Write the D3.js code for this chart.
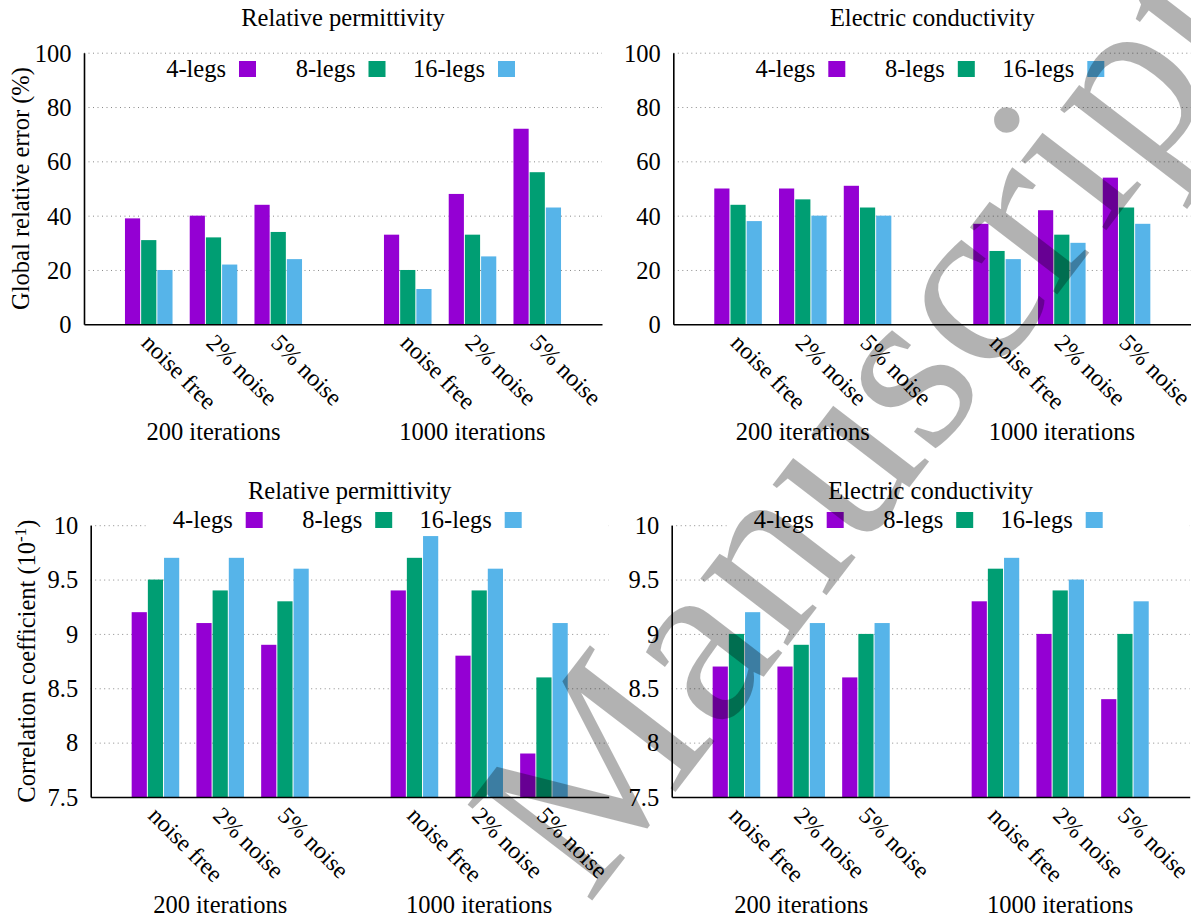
<!DOCTYPE html>
<html>
<head>
<meta charset="utf-8">
<script src="https://cdn.jsdelivr.net/npm/d3@7"></script>
<style>
  body { margin: 0; background: #fff; }
</style>
</head>
<body>
<div id="chart"></div>
<script>
const noiseLevels = ['noise free', '2% noise', '5% noise'];
const iterationRuns = ['200 iterations', '1000 iterations'];
const legs = ['4-legs', '8-legs', '16-legs'];
const legColors = ['#9400d3', '#009e73', '#56b4e9'];

// rows: 200 it (noise free, 2%, 5%) then 1000 it (noise free, 2%, 5%); columns: 4, 8, 16 legs
const errPermittivity = [[39, 31, 20], [40, 32, 22], [44, 34, 24], [33, 20, 13], [48, 33, 25], [72, 56, 43]];
const errConductivity = [[50, 44, 38], [50, 46, 40], [51, 43, 40], [37, 27, 24], [42, 33, 30], [54, 43, 37]];
const corrPermittivity = [[9.2, 9.5, 9.7], [9.1, 9.4, 9.7], [8.9, 9.3, 9.6], [9.4, 9.7, 9.9], [8.8, 9.4, 9.6], [7.9, 8.6, 9.1]];
const corrConductivity = [[8.7, 9.0, 9.2], [8.7, 8.9, 9.1], [8.6, 9.0, 9.1], [9.3, 9.6, 9.7], [9.0, 9.4, 9.5], [8.4, 9.0, 9.3]];

const errTicks = [0, 20, 40, 60, 80, 100];
const corrTicks = [7.5, 8, 8.5, 9, 9.5, 10];

// pick the first serif face that is really installed (Times-like look of the original)
function pickFont() {
  const ctx = document.createElement('canvas').getContext('2d');
  const sample = 'Relative permittivity mmWWii 0123';
  const width = f => { ctx.font = `40px ${f}`; return ctx.measureText(sample).width; };
  const mono = width('monospace');
  const sans = width('sans-serif');
  const names = ['Liberation Serif', 'Tinos', 'Times New Roman', 'Nimbus Roman', 'FreeSerif', 'DejaVu Serif', 'Noto Serif'];
  for (const n of names) {
    if (width(`"${n}", monospace`) !== mono || width(`"${n}", sans-serif`) !== sans) return `"${n}", serif`;
  }
  return 'serif';
}
const FONT = pickFont();

const svg = d3.select('#chart').append('svg')
  .attr('width', 1191)
  .attr('height', 920)
  .attr('font-family', FONT)
  .attr('font-size', 24.5);

class Chart {

  constructor(opts) {
    this.left = opts.left;
    this.top = opts.top;
    this.bottom = opts.bottom;
    this.title = opts.title;
    this.rows = opts.rows;
    this.ticks = opts.ticks;
    this.yLabel = opts.yLabel;
    this.legendTop = opts.legendTop;
    this.width = 518;
    this.draw();
  }

  draw() {
    this.plot = svg.append('g')
      .attr('transform', `translate(${this.left},${this.top})`);
    this.innerHeight = this.bottom - this.top;

    this.createScales();
    this.addGrid();
    this.addChart();
    this.addAxes();
    this.addLegend();
    this.addTitles();
  }

  createScales() {
    // one slot per cluster, an empty slot between the two runs
    this.x = d3.scaleLinear().domain([-1, 7]).range([0, this.width]);
    this.y = d3.scaleLinear()
      .domain(d3.extent(this.ticks))
      .range([this.innerHeight, 0]);
    this.step = (this.x(1) - this.x(0)) / 4;
  }

  addGrid() {
    const grid = this.plot.append('g')
      .call(d3.axisLeft(this.y).tickValues(this.ticks.slice(1)).tickSize(-this.width).tickFormat(''));
    grid.select('.domain').remove();
    grid.selectAll('line')
      .attr('stroke', '#8a8a8a')
      .attr('stroke-width', 1)
      .attr('stroke-dasharray', '1,3.5');
  }

  addChart() {
    const bars = this.rows.flatMap((row, k) => row.map((v, j) => ({
      slot: Math.floor(k / 3) * 4 + k % 3,
      leg: j,
      value: v
    })));

    this.plot.append('g')
      .selectAll('rect')
      .data(bars)
      .enter().append('rect')
      .attr('x', d => this.x(d.slot) + (d.leg - 1.5) * this.step + 0.5)
      .attr('y', d => this.y(d.value))
      .attr('width', this.step - 1)
      .attr('height', d => this.innerHeight - this.y(d.value))
      .attr('fill', d => legColors[d.leg]);
  }

  addAxes() {
    const yAxis = this.plot.append('g')
      .call(d3.axisLeft(this.y).tickValues(this.ticks).tickFormat(d => String(d)).tickSize(0).tickPadding(12.5));
    yAxis.attr('font-family', FONT).attr('font-size', 24.5);
    yAxis.selectAll('text').attr('dy', '0.34em');

    const xAxis = this.plot.append('g')
      .attr('transform', `translate(0,${this.innerHeight})`)
      .call(d3.axisBottom(this.x)
        .tickValues([0, 1, 2, 4, 5, 6])
        .tickFormat(i => noiseLevels[i % 4])
        .tickSize(0)
        .tickSizeOuter(0));
    xAxis.attr('font-family', FONT).attr('font-size', 24);
    xAxis.selectAll('text')
      .attr('text-anchor', 'start')
      .attr('y', 0)
      .attr('dy', 0)
      .attr('transform', 'translate(-9,20) rotate(45)');

    [yAxis, xAxis].forEach(a => a.select('.domain')
      .attr('stroke', '#000')
      .attr('stroke-width', 1.6));

    // run labels under each block of clusters
    this.plot.append('g')
      .selectAll('text')
      .data(iterationRuns)
      .enter().append('text')
      .attr('x', (d, i) => this.x(i * 4 + 1))
      .attr('y', this.innerHeight + 116)
      .attr('text-anchor', 'middle')
      .text(d => d);
  }

  addLegend() {
    const ly = this.legendTop - this.top;
    this.plot.append('rect')
      .attr('x', 55)
      .attr('y', ly - 6)
      .attr('width', this.width - 55)
      .attr('height', 28)
      .attr('fill', '#fff');

    const item = this.plot.append('g')
      .selectAll('g')
      .data(legs)
      .enter().append('g')
      .attr('transform', (d, i) => `translate(${155 + i * 129.5},${ly})`);

    item.append('rect')
      .attr('width', 17)
      .attr('height', 16)
      .attr('fill', (d, i) => legColors[i]);

    item.append('text')
      .attr('x', -13)
      .attr('y', 16)
      .attr('text-anchor', 'end')
      .text(d => d);
  }

  addTitles() {
    this.plot.append('text')
      .attr('x', 259)
      .attr('y', -26.5)
      .attr('text-anchor', 'middle')
      .text(this.title);

    if (!this.yLabel) return;
    const label = svg.append('text')
      .attr('transform', `translate(${this.yLabel.x},${(this.top + this.bottom) / 2}) rotate(-90)`)
      .attr('text-anchor', 'middle');
    label.append('tspan').text(this.yLabel.text);
    if (this.yLabel.sup) {
      label.append('tspan').attr('dy', -9).attr('font-size', 17).text(this.yLabel.sup);
      label.append('tspan').attr('dy', 9).text(')');
    }
  }

}

new Chart({ left: 84, top: 52.7, bottom: 324.3, title: 'Relative permittivity', rows: errPermittivity,
  ticks: errTicks, legendTop: 61, yLabel: { x: 28.5, text: 'Global relative error (%)' } });
new Chart({ left: 673.3, top: 52.7, bottom: 324.3, title: 'Electric conductivity', rows: errConductivity,
  ticks: errTicks, legendTop: 61 });
new Chart({ left: 90.7, top: 525.2, bottom: 797, title: 'Relative permittivity', rows: corrPermittivity,
  ticks: corrTicks, legendTop: 512, yLabel: { x: 34.5, text: 'Correlation coefficient (10', sup: '-1' } });
new Chart({ left: 671.7, top: 525.2, bottom: 797, title: 'Electric conductivity', rows: corrConductivity,
  ticks: corrTicks, legendTop: 512 });

// watermark across the figure, stretched to the length of the original serif word
svg.append('text')
  .attr('transform', 'translate(588,906) rotate(-52.5)')
  .attr('font-size', 240)
  .attr('textLength', 1102)
  .attr('lengthAdjust', 'spacingAndGlyphs')
  .attr('fill', '#000')
  .attr('fill-opacity', 0.3)
  .text('Manuscript');
</script>
</body>
</html>
